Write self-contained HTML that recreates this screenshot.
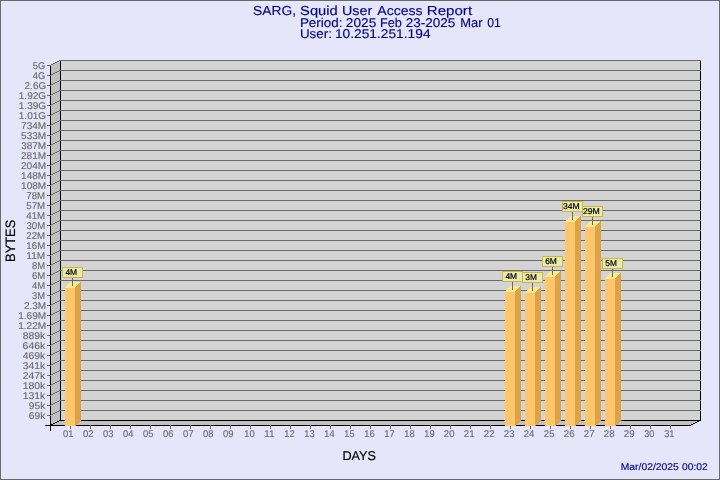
<!DOCTYPE html>
<html><head><meta charset="utf-8"><title>SARG</title>
<style>html,body{margin:0;padding:0;background:rgb(230,230,250);overflow:hidden}svg{display:block;will-change:transform}text{font-family:"Liberation Sans",sans-serif;text-rendering:geometricPrecision;stroke-linejoin:round}</style></head><body>
<svg width="720" height="480" viewBox="0 0 720 480">
<rect x="0" y="0" width="720" height="480" fill="rgb(230,230,250)"/>
<g shape-rendering="crispEdges">
<rect x="0.5" y="0.5" width="719" height="479" fill="none" stroke="rgb(105,105,105)" stroke-width="1"/>
<polygon points="50,65.5 50,426 60.5,420.5 60.5,60" fill="rgb(192,192,192)"/>
<rect x="60" y="60" width="641" height="361" fill="rgb(211,211,211)"/>
<polygon points="50,426 60.5,420.5 701,420.5 691,426" fill="rgb(192,192,192)"/>
</g>
<g shape-rendering="crispEdges" fill="#000">
<rect x="50" y="65" width="1" height="366"/>
<rect x="45" y="425" width="646" height="1"/>
<rect x="60" y="60" width="1" height="361"/>
<rect x="700" y="60" width="1" height="361"/>
<rect x="50" y="425" width="1" height="1"/><rect x="51" y="424" width="2" height="1"/><rect x="53" y="423" width="2" height="1"/><rect x="55" y="422" width="2" height="1"/><rect x="57" y="421" width="2" height="1"/><rect x="59" y="420" width="2" height="1"/>
<rect x="690" y="425" width="1" height="1"/><rect x="691" y="424" width="2" height="1"/><rect x="693" y="423" width="2" height="1"/><rect x="695" y="422" width="2" height="1"/><rect x="697" y="421" width="2" height="1"/><rect x="699" y="420" width="2" height="1"/>
</g>
<g shape-rendering="crispEdges" fill="rgb(105,105,105)">
<rect x="60" y="60" width="641" height="1"/>
<rect x="47" y="65" width="3" height="1"/>
<rect x="50" y="65" width="1" height="1"/><rect x="51" y="64" width="2" height="1"/><rect x="53" y="63" width="2" height="1"/><rect x="55" y="62" width="2" height="1"/><rect x="57" y="61" width="2" height="1"/><rect x="59" y="60" width="2" height="1"/>
<rect x="60" y="70" width="641" height="1"/>
<rect x="47" y="75" width="3" height="1"/>
<rect x="50" y="75" width="1" height="1"/><rect x="51" y="74" width="2" height="1"/><rect x="53" y="73" width="2" height="1"/><rect x="55" y="72" width="2" height="1"/><rect x="57" y="71" width="2" height="1"/><rect x="59" y="70" width="2" height="1"/>
<rect x="60" y="80" width="641" height="1"/>
<rect x="47" y="85" width="3" height="1"/>
<rect x="50" y="85" width="1" height="1"/><rect x="51" y="84" width="2" height="1"/><rect x="53" y="83" width="2" height="1"/><rect x="55" y="82" width="2" height="1"/><rect x="57" y="81" width="2" height="1"/><rect x="59" y="80" width="2" height="1"/>
<rect x="60" y="90" width="641" height="1"/>
<rect x="47" y="95" width="3" height="1"/>
<rect x="50" y="95" width="1" height="1"/><rect x="51" y="94" width="2" height="1"/><rect x="53" y="93" width="2" height="1"/><rect x="55" y="92" width="2" height="1"/><rect x="57" y="91" width="2" height="1"/><rect x="59" y="90" width="2" height="1"/>
<rect x="60" y="100" width="641" height="1"/>
<rect x="47" y="105" width="3" height="1"/>
<rect x="50" y="105" width="1" height="1"/><rect x="51" y="104" width="2" height="1"/><rect x="53" y="103" width="2" height="1"/><rect x="55" y="102" width="2" height="1"/><rect x="57" y="101" width="2" height="1"/><rect x="59" y="100" width="2" height="1"/>
<rect x="60" y="110" width="641" height="1"/>
<rect x="47" y="115" width="3" height="1"/>
<rect x="50" y="115" width="1" height="1"/><rect x="51" y="114" width="2" height="1"/><rect x="53" y="113" width="2" height="1"/><rect x="55" y="112" width="2" height="1"/><rect x="57" y="111" width="2" height="1"/><rect x="59" y="110" width="2" height="1"/>
<rect x="60" y="120" width="641" height="1"/>
<rect x="47" y="125" width="3" height="1"/>
<rect x="50" y="125" width="1" height="1"/><rect x="51" y="124" width="2" height="1"/><rect x="53" y="123" width="2" height="1"/><rect x="55" y="122" width="2" height="1"/><rect x="57" y="121" width="2" height="1"/><rect x="59" y="120" width="2" height="1"/>
<rect x="60" y="130" width="641" height="1"/>
<rect x="47" y="135" width="3" height="1"/>
<rect x="50" y="135" width="1" height="1"/><rect x="51" y="134" width="2" height="1"/><rect x="53" y="133" width="2" height="1"/><rect x="55" y="132" width="2" height="1"/><rect x="57" y="131" width="2" height="1"/><rect x="59" y="130" width="2" height="1"/>
<rect x="60" y="140" width="641" height="1"/>
<rect x="47" y="145" width="3" height="1"/>
<rect x="50" y="145" width="1" height="1"/><rect x="51" y="144" width="2" height="1"/><rect x="53" y="143" width="2" height="1"/><rect x="55" y="142" width="2" height="1"/><rect x="57" y="141" width="2" height="1"/><rect x="59" y="140" width="2" height="1"/>
<rect x="60" y="150" width="641" height="1"/>
<rect x="47" y="155" width="3" height="1"/>
<rect x="50" y="155" width="1" height="1"/><rect x="51" y="154" width="2" height="1"/><rect x="53" y="153" width="2" height="1"/><rect x="55" y="152" width="2" height="1"/><rect x="57" y="151" width="2" height="1"/><rect x="59" y="150" width="2" height="1"/>
<rect x="60" y="160" width="641" height="1"/>
<rect x="47" y="165" width="3" height="1"/>
<rect x="50" y="165" width="1" height="1"/><rect x="51" y="164" width="2" height="1"/><rect x="53" y="163" width="2" height="1"/><rect x="55" y="162" width="2" height="1"/><rect x="57" y="161" width="2" height="1"/><rect x="59" y="160" width="2" height="1"/>
<rect x="60" y="170" width="641" height="1"/>
<rect x="47" y="175" width="3" height="1"/>
<rect x="50" y="175" width="1" height="1"/><rect x="51" y="174" width="2" height="1"/><rect x="53" y="173" width="2" height="1"/><rect x="55" y="172" width="2" height="1"/><rect x="57" y="171" width="2" height="1"/><rect x="59" y="170" width="2" height="1"/>
<rect x="60" y="180" width="641" height="1"/>
<rect x="47" y="185" width="3" height="1"/>
<rect x="50" y="185" width="1" height="1"/><rect x="51" y="184" width="2" height="1"/><rect x="53" y="183" width="2" height="1"/><rect x="55" y="182" width="2" height="1"/><rect x="57" y="181" width="2" height="1"/><rect x="59" y="180" width="2" height="1"/>
<rect x="60" y="190" width="641" height="1"/>
<rect x="47" y="195" width="3" height="1"/>
<rect x="50" y="195" width="1" height="1"/><rect x="51" y="194" width="2" height="1"/><rect x="53" y="193" width="2" height="1"/><rect x="55" y="192" width="2" height="1"/><rect x="57" y="191" width="2" height="1"/><rect x="59" y="190" width="2" height="1"/>
<rect x="60" y="200" width="641" height="1"/>
<rect x="47" y="205" width="3" height="1"/>
<rect x="50" y="205" width="1" height="1"/><rect x="51" y="204" width="2" height="1"/><rect x="53" y="203" width="2" height="1"/><rect x="55" y="202" width="2" height="1"/><rect x="57" y="201" width="2" height="1"/><rect x="59" y="200" width="2" height="1"/>
<rect x="60" y="210" width="641" height="1"/>
<rect x="47" y="215" width="3" height="1"/>
<rect x="50" y="215" width="1" height="1"/><rect x="51" y="214" width="2" height="1"/><rect x="53" y="213" width="2" height="1"/><rect x="55" y="212" width="2" height="1"/><rect x="57" y="211" width="2" height="1"/><rect x="59" y="210" width="2" height="1"/>
<rect x="60" y="220" width="641" height="1"/>
<rect x="47" y="225" width="3" height="1"/>
<rect x="50" y="225" width="1" height="1"/><rect x="51" y="224" width="2" height="1"/><rect x="53" y="223" width="2" height="1"/><rect x="55" y="222" width="2" height="1"/><rect x="57" y="221" width="2" height="1"/><rect x="59" y="220" width="2" height="1"/>
<rect x="60" y="230" width="641" height="1"/>
<rect x="47" y="235" width="3" height="1"/>
<rect x="50" y="235" width="1" height="1"/><rect x="51" y="234" width="2" height="1"/><rect x="53" y="233" width="2" height="1"/><rect x="55" y="232" width="2" height="1"/><rect x="57" y="231" width="2" height="1"/><rect x="59" y="230" width="2" height="1"/>
<rect x="60" y="240" width="641" height="1"/>
<rect x="47" y="245" width="3" height="1"/>
<rect x="50" y="245" width="1" height="1"/><rect x="51" y="244" width="2" height="1"/><rect x="53" y="243" width="2" height="1"/><rect x="55" y="242" width="2" height="1"/><rect x="57" y="241" width="2" height="1"/><rect x="59" y="240" width="2" height="1"/>
<rect x="60" y="250" width="641" height="1"/>
<rect x="47" y="255" width="3" height="1"/>
<rect x="50" y="255" width="1" height="1"/><rect x="51" y="254" width="2" height="1"/><rect x="53" y="253" width="2" height="1"/><rect x="55" y="252" width="2" height="1"/><rect x="57" y="251" width="2" height="1"/><rect x="59" y="250" width="2" height="1"/>
<rect x="60" y="260" width="641" height="1"/>
<rect x="47" y="265" width="3" height="1"/>
<rect x="50" y="265" width="1" height="1"/><rect x="51" y="264" width="2" height="1"/><rect x="53" y="263" width="2" height="1"/><rect x="55" y="262" width="2" height="1"/><rect x="57" y="261" width="2" height="1"/><rect x="59" y="260" width="2" height="1"/>
<rect x="60" y="270" width="641" height="1"/>
<rect x="47" y="275" width="3" height="1"/>
<rect x="50" y="275" width="1" height="1"/><rect x="51" y="274" width="2" height="1"/><rect x="53" y="273" width="2" height="1"/><rect x="55" y="272" width="2" height="1"/><rect x="57" y="271" width="2" height="1"/><rect x="59" y="270" width="2" height="1"/>
<rect x="60" y="280" width="641" height="1"/>
<rect x="47" y="285" width="3" height="1"/>
<rect x="50" y="285" width="1" height="1"/><rect x="51" y="284" width="2" height="1"/><rect x="53" y="283" width="2" height="1"/><rect x="55" y="282" width="2" height="1"/><rect x="57" y="281" width="2" height="1"/><rect x="59" y="280" width="2" height="1"/>
<rect x="60" y="290" width="641" height="1"/>
<rect x="47" y="295" width="3" height="1"/>
<rect x="50" y="295" width="1" height="1"/><rect x="51" y="294" width="2" height="1"/><rect x="53" y="293" width="2" height="1"/><rect x="55" y="292" width="2" height="1"/><rect x="57" y="291" width="2" height="1"/><rect x="59" y="290" width="2" height="1"/>
<rect x="60" y="300" width="641" height="1"/>
<rect x="47" y="305" width="3" height="1"/>
<rect x="50" y="305" width="1" height="1"/><rect x="51" y="304" width="2" height="1"/><rect x="53" y="303" width="2" height="1"/><rect x="55" y="302" width="2" height="1"/><rect x="57" y="301" width="2" height="1"/><rect x="59" y="300" width="2" height="1"/>
<rect x="60" y="310" width="641" height="1"/>
<rect x="47" y="315" width="3" height="1"/>
<rect x="50" y="315" width="1" height="1"/><rect x="51" y="314" width="2" height="1"/><rect x="53" y="313" width="2" height="1"/><rect x="55" y="312" width="2" height="1"/><rect x="57" y="311" width="2" height="1"/><rect x="59" y="310" width="2" height="1"/>
<rect x="60" y="320" width="641" height="1"/>
<rect x="47" y="325" width="3" height="1"/>
<rect x="50" y="325" width="1" height="1"/><rect x="51" y="324" width="2" height="1"/><rect x="53" y="323" width="2" height="1"/><rect x="55" y="322" width="2" height="1"/><rect x="57" y="321" width="2" height="1"/><rect x="59" y="320" width="2" height="1"/>
<rect x="60" y="330" width="641" height="1"/>
<rect x="47" y="335" width="3" height="1"/>
<rect x="50" y="335" width="1" height="1"/><rect x="51" y="334" width="2" height="1"/><rect x="53" y="333" width="2" height="1"/><rect x="55" y="332" width="2" height="1"/><rect x="57" y="331" width="2" height="1"/><rect x="59" y="330" width="2" height="1"/>
<rect x="60" y="340" width="641" height="1"/>
<rect x="47" y="345" width="3" height="1"/>
<rect x="50" y="345" width="1" height="1"/><rect x="51" y="344" width="2" height="1"/><rect x="53" y="343" width="2" height="1"/><rect x="55" y="342" width="2" height="1"/><rect x="57" y="341" width="2" height="1"/><rect x="59" y="340" width="2" height="1"/>
<rect x="60" y="350" width="641" height="1"/>
<rect x="47" y="355" width="3" height="1"/>
<rect x="50" y="355" width="1" height="1"/><rect x="51" y="354" width="2" height="1"/><rect x="53" y="353" width="2" height="1"/><rect x="55" y="352" width="2" height="1"/><rect x="57" y="351" width="2" height="1"/><rect x="59" y="350" width="2" height="1"/>
<rect x="60" y="360" width="641" height="1"/>
<rect x="47" y="365" width="3" height="1"/>
<rect x="50" y="365" width="1" height="1"/><rect x="51" y="364" width="2" height="1"/><rect x="53" y="363" width="2" height="1"/><rect x="55" y="362" width="2" height="1"/><rect x="57" y="361" width="2" height="1"/><rect x="59" y="360" width="2" height="1"/>
<rect x="60" y="370" width="641" height="1"/>
<rect x="47" y="375" width="3" height="1"/>
<rect x="50" y="375" width="1" height="1"/><rect x="51" y="374" width="2" height="1"/><rect x="53" y="373" width="2" height="1"/><rect x="55" y="372" width="2" height="1"/><rect x="57" y="371" width="2" height="1"/><rect x="59" y="370" width="2" height="1"/>
<rect x="60" y="380" width="641" height="1"/>
<rect x="47" y="385" width="3" height="1"/>
<rect x="50" y="385" width="1" height="1"/><rect x="51" y="384" width="2" height="1"/><rect x="53" y="383" width="2" height="1"/><rect x="55" y="382" width="2" height="1"/><rect x="57" y="381" width="2" height="1"/><rect x="59" y="380" width="2" height="1"/>
<rect x="60" y="390" width="641" height="1"/>
<rect x="47" y="395" width="3" height="1"/>
<rect x="50" y="395" width="1" height="1"/><rect x="51" y="394" width="2" height="1"/><rect x="53" y="393" width="2" height="1"/><rect x="55" y="392" width="2" height="1"/><rect x="57" y="391" width="2" height="1"/><rect x="59" y="390" width="2" height="1"/>
<rect x="60" y="400" width="641" height="1"/>
<rect x="47" y="405" width="3" height="1"/>
<rect x="50" y="405" width="1" height="1"/><rect x="51" y="404" width="2" height="1"/><rect x="53" y="403" width="2" height="1"/><rect x="55" y="402" width="2" height="1"/><rect x="57" y="401" width="2" height="1"/><rect x="59" y="400" width="2" height="1"/>
<rect x="60" y="410" width="641" height="1"/>
<rect x="47" y="415" width="3" height="1"/>
<rect x="50" y="415" width="1" height="1"/><rect x="51" y="414" width="2" height="1"/><rect x="53" y="413" width="2" height="1"/><rect x="55" y="412" width="2" height="1"/><rect x="57" y="411" width="2" height="1"/><rect x="59" y="410" width="2" height="1"/>
</g>
<rect shape-rendering="crispEdges" x="60" y="420" width="641" height="1" fill="#000"/>
<g shape-rendering="crispEdges" fill="rgb(105,105,105)">
<rect x="70" y="425" width="1" height="4"/>
<rect x="90" y="425" width="1" height="4"/>
<rect x="110" y="425" width="1" height="4"/>
<rect x="130" y="425" width="1" height="4"/>
<rect x="150" y="425" width="1" height="4"/>
<rect x="170" y="425" width="1" height="4"/>
<rect x="190" y="425" width="1" height="4"/>
<rect x="210" y="425" width="1" height="4"/>
<rect x="230" y="425" width="1" height="4"/>
<rect x="250" y="425" width="1" height="4"/>
<rect x="270" y="425" width="1" height="4"/>
<rect x="290" y="425" width="1" height="4"/>
<rect x="310" y="425" width="1" height="4"/>
<rect x="330" y="425" width="1" height="4"/>
<rect x="350" y="425" width="1" height="4"/>
<rect x="370" y="425" width="1" height="4"/>
<rect x="390" y="425" width="1" height="4"/>
<rect x="410" y="425" width="1" height="4"/>
<rect x="430" y="425" width="1" height="4"/>
<rect x="450" y="425" width="1" height="4"/>
<rect x="470" y="425" width="1" height="4"/>
<rect x="490" y="425" width="1" height="4"/>
<rect x="510" y="425" width="1" height="4"/>
<rect x="530" y="425" width="1" height="4"/>
<rect x="550" y="425" width="1" height="4"/>
<rect x="570" y="425" width="1" height="4"/>
<rect x="590" y="425" width="1" height="4"/>
<rect x="610" y="425" width="1" height="4"/>
<rect x="630" y="425" width="1" height="4"/>
<rect x="650" y="425" width="1" height="4"/>
<rect x="670" y="425" width="1" height="4"/>
</g>
<g shape-rendering="crispEdges">
<rect x="65" y="288" width="10" height="138" fill="rgb(255,198,107)"/>
<rect x="75" y="288" width="6" height="133" fill="rgb(220,163,72)"/>
<rect x="65" y="287" width="10" height="1" fill="rgb(255,233,142)"/>
<rect x="75" y="287" width="6" height="1" fill="rgb(220,163,72)"/>
<rect x="66" y="286" width="10" height="1" fill="rgb(255,233,142)"/>
<rect x="76" y="286" width="5" height="1" fill="rgb(220,163,72)"/>
<rect x="67" y="285" width="10" height="1" fill="rgb(255,233,142)"/>
<rect x="77" y="285" width="4" height="1" fill="rgb(220,163,72)"/>
<rect x="68" y="284" width="10" height="1" fill="rgb(255,233,142)"/>
<rect x="78" y="284" width="3" height="1" fill="rgb(220,163,72)"/>
<rect x="69" y="283" width="10" height="1" fill="rgb(255,233,142)"/>
<rect x="79" y="283" width="2" height="1" fill="rgb(220,163,72)"/>
<rect x="70" y="282" width="10" height="1" fill="rgb(255,233,142)"/>
<rect x="80" y="282" width="1" height="1" fill="rgb(220,163,72)"/>
<rect x="75" y="421" width="5" height="1" fill="rgb(220,163,72)"/>
<rect x="75" y="422" width="4" height="1" fill="rgb(220,163,72)"/>
<rect x="75" y="423" width="3" height="1" fill="rgb(220,163,72)"/>
<rect x="75" y="424" width="2" height="1" fill="rgb(220,163,72)"/>
<rect x="75" y="425" width="1" height="1" fill="rgb(220,163,72)"/>
</g>
<g shape-rendering="crispEdges">
<rect x="505" y="292" width="10" height="134" fill="rgb(255,198,107)"/>
<rect x="515" y="292" width="6" height="129" fill="rgb(220,163,72)"/>
<rect x="505" y="291" width="10" height="1" fill="rgb(255,233,142)"/>
<rect x="515" y="291" width="6" height="1" fill="rgb(220,163,72)"/>
<rect x="506" y="290" width="10" height="1" fill="rgb(255,233,142)"/>
<rect x="516" y="290" width="5" height="1" fill="rgb(220,163,72)"/>
<rect x="507" y="289" width="10" height="1" fill="rgb(255,233,142)"/>
<rect x="517" y="289" width="4" height="1" fill="rgb(220,163,72)"/>
<rect x="508" y="288" width="10" height="1" fill="rgb(255,233,142)"/>
<rect x="518" y="288" width="3" height="1" fill="rgb(220,163,72)"/>
<rect x="509" y="287" width="10" height="1" fill="rgb(255,233,142)"/>
<rect x="519" y="287" width="2" height="1" fill="rgb(220,163,72)"/>
<rect x="510" y="286" width="10" height="1" fill="rgb(255,233,142)"/>
<rect x="520" y="286" width="1" height="1" fill="rgb(220,163,72)"/>
<rect x="515" y="421" width="5" height="1" fill="rgb(220,163,72)"/>
<rect x="515" y="422" width="4" height="1" fill="rgb(220,163,72)"/>
<rect x="515" y="423" width="3" height="1" fill="rgb(220,163,72)"/>
<rect x="515" y="424" width="2" height="1" fill="rgb(220,163,72)"/>
<rect x="515" y="425" width="1" height="1" fill="rgb(220,163,72)"/>
</g>
<g shape-rendering="crispEdges">
<rect x="525" y="293" width="10" height="133" fill="rgb(255,198,107)"/>
<rect x="535" y="293" width="6" height="128" fill="rgb(220,163,72)"/>
<rect x="525" y="292" width="10" height="1" fill="rgb(255,233,142)"/>
<rect x="535" y="292" width="6" height="1" fill="rgb(220,163,72)"/>
<rect x="526" y="291" width="10" height="1" fill="rgb(255,233,142)"/>
<rect x="536" y="291" width="5" height="1" fill="rgb(220,163,72)"/>
<rect x="527" y="290" width="10" height="1" fill="rgb(255,233,142)"/>
<rect x="537" y="290" width="4" height="1" fill="rgb(220,163,72)"/>
<rect x="528" y="289" width="10" height="1" fill="rgb(255,233,142)"/>
<rect x="538" y="289" width="3" height="1" fill="rgb(220,163,72)"/>
<rect x="529" y="288" width="10" height="1" fill="rgb(255,233,142)"/>
<rect x="539" y="288" width="2" height="1" fill="rgb(220,163,72)"/>
<rect x="530" y="287" width="10" height="1" fill="rgb(255,233,142)"/>
<rect x="540" y="287" width="1" height="1" fill="rgb(220,163,72)"/>
<rect x="535" y="421" width="5" height="1" fill="rgb(220,163,72)"/>
<rect x="535" y="422" width="4" height="1" fill="rgb(220,163,72)"/>
<rect x="535" y="423" width="3" height="1" fill="rgb(220,163,72)"/>
<rect x="535" y="424" width="2" height="1" fill="rgb(220,163,72)"/>
<rect x="535" y="425" width="1" height="1" fill="rgb(220,163,72)"/>
</g>
<g shape-rendering="crispEdges">
<rect x="545" y="277" width="10" height="149" fill="rgb(255,198,107)"/>
<rect x="555" y="277" width="6" height="144" fill="rgb(220,163,72)"/>
<rect x="545" y="276" width="10" height="1" fill="rgb(255,233,142)"/>
<rect x="555" y="276" width="6" height="1" fill="rgb(220,163,72)"/>
<rect x="546" y="275" width="10" height="1" fill="rgb(255,233,142)"/>
<rect x="556" y="275" width="5" height="1" fill="rgb(220,163,72)"/>
<rect x="547" y="274" width="10" height="1" fill="rgb(255,233,142)"/>
<rect x="557" y="274" width="4" height="1" fill="rgb(220,163,72)"/>
<rect x="548" y="273" width="10" height="1" fill="rgb(255,233,142)"/>
<rect x="558" y="273" width="3" height="1" fill="rgb(220,163,72)"/>
<rect x="549" y="272" width="10" height="1" fill="rgb(255,233,142)"/>
<rect x="559" y="272" width="2" height="1" fill="rgb(220,163,72)"/>
<rect x="550" y="271" width="10" height="1" fill="rgb(255,233,142)"/>
<rect x="560" y="271" width="1" height="1" fill="rgb(220,163,72)"/>
<rect x="555" y="421" width="5" height="1" fill="rgb(220,163,72)"/>
<rect x="555" y="422" width="4" height="1" fill="rgb(220,163,72)"/>
<rect x="555" y="423" width="3" height="1" fill="rgb(220,163,72)"/>
<rect x="555" y="424" width="2" height="1" fill="rgb(220,163,72)"/>
<rect x="555" y="425" width="1" height="1" fill="rgb(220,163,72)"/>
</g>
<g shape-rendering="crispEdges">
<rect x="565" y="222" width="10" height="204" fill="rgb(255,198,107)"/>
<rect x="575" y="222" width="6" height="199" fill="rgb(220,163,72)"/>
<rect x="565" y="221" width="10" height="1" fill="rgb(255,233,142)"/>
<rect x="575" y="221" width="6" height="1" fill="rgb(220,163,72)"/>
<rect x="566" y="220" width="10" height="1" fill="rgb(255,233,142)"/>
<rect x="576" y="220" width="5" height="1" fill="rgb(220,163,72)"/>
<rect x="567" y="219" width="10" height="1" fill="rgb(255,233,142)"/>
<rect x="577" y="219" width="4" height="1" fill="rgb(220,163,72)"/>
<rect x="568" y="218" width="10" height="1" fill="rgb(255,233,142)"/>
<rect x="578" y="218" width="3" height="1" fill="rgb(220,163,72)"/>
<rect x="569" y="217" width="10" height="1" fill="rgb(255,233,142)"/>
<rect x="579" y="217" width="2" height="1" fill="rgb(220,163,72)"/>
<rect x="570" y="216" width="10" height="1" fill="rgb(255,233,142)"/>
<rect x="580" y="216" width="1" height="1" fill="rgb(220,163,72)"/>
<rect x="575" y="421" width="5" height="1" fill="rgb(220,163,72)"/>
<rect x="575" y="422" width="4" height="1" fill="rgb(220,163,72)"/>
<rect x="575" y="423" width="3" height="1" fill="rgb(220,163,72)"/>
<rect x="575" y="424" width="2" height="1" fill="rgb(220,163,72)"/>
<rect x="575" y="425" width="1" height="1" fill="rgb(220,163,72)"/>
</g>
<g shape-rendering="crispEdges">
<rect x="585" y="227" width="10" height="199" fill="rgb(255,198,107)"/>
<rect x="595" y="227" width="6" height="194" fill="rgb(220,163,72)"/>
<rect x="585" y="226" width="10" height="1" fill="rgb(255,233,142)"/>
<rect x="595" y="226" width="6" height="1" fill="rgb(220,163,72)"/>
<rect x="586" y="225" width="10" height="1" fill="rgb(255,233,142)"/>
<rect x="596" y="225" width="5" height="1" fill="rgb(220,163,72)"/>
<rect x="587" y="224" width="10" height="1" fill="rgb(255,233,142)"/>
<rect x="597" y="224" width="4" height="1" fill="rgb(220,163,72)"/>
<rect x="588" y="223" width="10" height="1" fill="rgb(255,233,142)"/>
<rect x="598" y="223" width="3" height="1" fill="rgb(220,163,72)"/>
<rect x="589" y="222" width="10" height="1" fill="rgb(255,233,142)"/>
<rect x="599" y="222" width="2" height="1" fill="rgb(220,163,72)"/>
<rect x="590" y="221" width="10" height="1" fill="rgb(255,233,142)"/>
<rect x="600" y="221" width="1" height="1" fill="rgb(220,163,72)"/>
<rect x="595" y="421" width="5" height="1" fill="rgb(220,163,72)"/>
<rect x="595" y="422" width="4" height="1" fill="rgb(220,163,72)"/>
<rect x="595" y="423" width="3" height="1" fill="rgb(220,163,72)"/>
<rect x="595" y="424" width="2" height="1" fill="rgb(220,163,72)"/>
<rect x="595" y="425" width="1" height="1" fill="rgb(220,163,72)"/>
</g>
<g shape-rendering="crispEdges">
<rect x="605" y="279" width="10" height="147" fill="rgb(255,198,107)"/>
<rect x="615" y="279" width="6" height="142" fill="rgb(220,163,72)"/>
<rect x="605" y="278" width="10" height="1" fill="rgb(255,233,142)"/>
<rect x="615" y="278" width="6" height="1" fill="rgb(220,163,72)"/>
<rect x="606" y="277" width="10" height="1" fill="rgb(255,233,142)"/>
<rect x="616" y="277" width="5" height="1" fill="rgb(220,163,72)"/>
<rect x="607" y="276" width="10" height="1" fill="rgb(255,233,142)"/>
<rect x="617" y="276" width="4" height="1" fill="rgb(220,163,72)"/>
<rect x="608" y="275" width="10" height="1" fill="rgb(255,233,142)"/>
<rect x="618" y="275" width="3" height="1" fill="rgb(220,163,72)"/>
<rect x="609" y="274" width="10" height="1" fill="rgb(255,233,142)"/>
<rect x="619" y="274" width="2" height="1" fill="rgb(220,163,72)"/>
<rect x="610" y="273" width="10" height="1" fill="rgb(255,233,142)"/>
<rect x="620" y="273" width="1" height="1" fill="rgb(220,163,72)"/>
<rect x="615" y="421" width="5" height="1" fill="rgb(220,163,72)"/>
<rect x="615" y="422" width="4" height="1" fill="rgb(220,163,72)"/>
<rect x="615" y="423" width="3" height="1" fill="rgb(220,163,72)"/>
<rect x="615" y="424" width="2" height="1" fill="rgb(220,163,72)"/>
<rect x="615" y="425" width="1" height="1" fill="rgb(220,163,72)"/>
</g>
<g shape-rendering="crispEdges">
<rect x="72" y="278" width="1" height="8" fill="rgb(105,105,105)"/>
<rect x="62.5" y="267.5" width="20" height="10" fill="rgb(234,234,174)" stroke="rgb(207,181,59)" stroke-width="1"/>
</g>
<text transform="translate(65.41,275) scale(1.0000,1)" font-size="8.4" fill="#000" stroke="#000" stroke-width="0.22">4M</text>
<g shape-rendering="crispEdges">
<rect x="512" y="282" width="1" height="8" fill="rgb(105,105,105)"/>
<rect x="502.5" y="271.5" width="20" height="10" fill="rgb(234,234,174)" stroke="rgb(207,181,59)" stroke-width="1"/>
</g>
<text transform="translate(505.41,279) scale(1.0000,1)" font-size="8.4" fill="#000" stroke="#000" stroke-width="0.22">4M</text>
<g shape-rendering="crispEdges">
<rect x="532" y="283" width="1" height="8" fill="rgb(105,105,105)"/>
<rect x="522.5" y="272.5" width="20" height="10" fill="rgb(234,234,174)" stroke="rgb(207,181,59)" stroke-width="1"/>
</g>
<text transform="translate(525.29,280) scale(0.9883,1)" font-size="8.4" fill="#000" stroke="#000" stroke-width="0.22">3M</text>
<g shape-rendering="crispEdges">
<rect x="552" y="267" width="1" height="8" fill="rgb(105,105,105)"/>
<rect x="542.5" y="256.5" width="20" height="10" fill="rgb(234,234,174)" stroke="rgb(207,181,59)" stroke-width="1"/>
</g>
<text transform="translate(545.16,264) scale(1.0059,1)" font-size="8.4" fill="#000" stroke="#000" stroke-width="0.22">6M</text>
<g shape-rendering="crispEdges">
<rect x="572" y="212" width="1" height="8" fill="rgb(105,105,105)"/>
<rect x="562.5" y="201.5" width="20" height="10" fill="rgb(234,234,174)" stroke="rgb(207,181,59)" stroke-width="1"/>
</g>
<text transform="translate(563.08,209) scale(1.0245,1)" font-size="8.4" fill="#000" stroke="#000" stroke-width="0.22">34M</text>
<g shape-rendering="crispEdges">
<rect x="592" y="217" width="1" height="8" fill="rgb(105,105,105)"/>
<rect x="582.5" y="206.5" width="20" height="10" fill="rgb(234,234,174)" stroke="rgb(207,181,59)" stroke-width="1"/>
</g>
<text transform="translate(582.95,214) scale(1.0370,1)" font-size="8.4" fill="#000" stroke="#000" stroke-width="0.22">29M</text>
<g shape-rendering="crispEdges">
<rect x="612" y="269" width="1" height="8" fill="rgb(105,105,105)"/>
<rect x="602.5" y="258.5" width="20" height="10" fill="rgb(234,234,174)" stroke="rgb(207,181,59)" stroke-width="1"/>
</g>
<text transform="translate(605.29,266) scale(0.9883,1)" font-size="8.4" fill="#000" stroke="#000" stroke-width="0.22">5M</text>
<g font-size="9.8" fill="rgb(105,105,105)" stroke="rgb(105,105,105)" stroke-width="0.12">
<text transform="translate(32.87,69) scale(0.9526,1)">5G</text>
<text transform="translate(32.80,79) scale(0.9585,1)">4G</text>
<text transform="translate(24.58,89) scale(1.0156,1)">2.6G</text>
<text transform="translate(18.75,99) scale(1.0273,1)">1.92G</text>
<text transform="translate(18.75,109) scale(1.0273,1)">1.39G</text>
<text transform="translate(18.75,119) scale(1.0273,1)">1.01G</text>
<text transform="translate(21.08,129) scale(1.0242,1)">734M</text>
<text transform="translate(21.08,139) scale(1.0241,1)">533M</text>
<text transform="translate(21.14,149) scale(1.0214,1)">387M</text>
<text transform="translate(21.01,159) scale(1.0269,1)">281M</text>
<text transform="translate(21.01,169) scale(1.0269,1)">204M</text>
<text transform="translate(21.07,179) scale(1.0245,1)">148M</text>
<text transform="translate(21.07,189) scale(1.0245,1)">108M</text>
<text transform="translate(26.34,199) scale(0.9894,1)">78M</text>
<text transform="translate(26.34,209) scale(0.9895,1)">57M</text>
<text transform="translate(26.28,219) scale(0.9931,1)">41M</text>
<text transform="translate(26.41,229) scale(0.9860,1)">30M</text>
<text transform="translate(26.28,239) scale(0.9930,1)">22M</text>
<text transform="translate(26.35,249) scale(0.9893,1)">16M</text>
<text transform="translate(26.32,259) scale(1.0297,1)">11M</text>
<text transform="translate(31.98,269) scale(0.9697,1)">8M</text>
<text transform="translate(31.91,279) scale(0.9746,1)">6M</text>
<text transform="translate(31.97,289) scale(0.9701,1)">4M</text>
<text transform="translate(32.10,299) scale(0.9598,1)">3M</text>
<text transform="translate(23.95,309) scale(1.0213,1)">2.3M</text>
<text transform="translate(18.13,319) scale(1.0316,1)">1.69M</text>
<text transform="translate(18.13,329) scale(1.0316,1)">1.22M</text>
<text transform="translate(22.65,339) scale(1.0661,1)">889k</text>
<text transform="translate(22.58,349) scale(1.0693,1)">646k</text>
<text transform="translate(22.66,359) scale(1.0655,1)">469k</text>
<text transform="translate(22.78,369) scale(1.0599,1)">341k</text>
<text transform="translate(22.64,379) scale(1.0663,1)">247k</text>
<text transform="translate(22.69,389) scale(1.0640,1)">180k</text>
<text transform="translate(22.69,399) scale(1.0640,1)">131k</text>
<text transform="translate(28.84,409) scale(1.0449,1)">95k</text>
<text transform="translate(28.84,419) scale(1.0451,1)">69k</text>
</g>
<g font-size="9.8" fill="rgb(105,105,105)" stroke="rgb(105,105,105)" stroke-width="0.12">
<text transform="translate(63.04,437) scale(0.9640,1)">01</text>
<text transform="translate(83.04,437) scale(0.9700,1)">02</text>
<text transform="translate(103.04,437) scale(0.9640,1)">03</text>
<text transform="translate(123.05,437) scale(0.9463,1)">04</text>
<text transform="translate(143.04,437) scale(0.9580,1)">05</text>
<text transform="translate(163.04,437) scale(0.9640,1)">06</text>
<text transform="translate(183.04,437) scale(0.9700,1)">07</text>
<text transform="translate(203.04,437) scale(0.9640,1)">08</text>
<text transform="translate(223.04,437) scale(0.9640,1)">09</text>
<text transform="translate(244.29,437) scale(0.9436,1)">10</text>
<text transform="translate(264.23,437) scale(1.0222,1)">11</text>
<text transform="translate(284.28,437) scale(0.9558,1)">12</text>
<text transform="translate(304.29,437) scale(0.9497,1)">13</text>
<text transform="translate(324.30,437) scale(0.9316,1)">14</text>
<text transform="translate(344.29,437) scale(0.9436,1)">15</text>
<text transform="translate(364.29,437) scale(0.9497,1)">16</text>
<text transform="translate(384.28,437) scale(0.9558,1)">17</text>
<text transform="translate(404.29,437) scale(0.9497,1)">18</text>
<text transform="translate(424.29,437) scale(0.9497,1)">19</text>
<text transform="translate(443.81,437) scale(0.9800,1)">20</text>
<text transform="translate(463.81,437) scale(0.9862,1)">21</text>
<text transform="translate(483.80,437) scale(0.9924,1)">22</text>
<text transform="translate(503.81,437) scale(0.9862,1)">23</text>
<text transform="translate(523.82,437) scale(0.9679,1)">24</text>
<text transform="translate(543.81,437) scale(0.9800,1)">25</text>
<text transform="translate(563.81,437) scale(0.9862,1)">26</text>
<text transform="translate(583.80,437) scale(0.9924,1)">27</text>
<text transform="translate(603.81,437) scale(0.9862,1)">28</text>
<text transform="translate(623.81,437) scale(0.9862,1)">29</text>
<text transform="translate(644.15,437) scale(0.9284,1)">30</text>
<text transform="translate(664.15,437) scale(0.9342,1)">31</text>
</g>
<text transform="translate(253.04,15) scale(1.0615,1)" font-size="13.0" fill="rgb(0,0,139)" stroke="rgb(0,0,139)" stroke-width="0.14">SARG,</text>
<text transform="translate(300.09,15) scale(1.1307,1)" font-size="13.0" fill="rgb(0,0,139)" stroke="rgb(0,0,139)" stroke-width="0.14">Squid</text>
<text transform="translate(341.90,15) scale(1.1048,1)" font-size="13.0" fill="rgb(0,0,139)" stroke="rgb(0,0,139)" stroke-width="0.14">User</text>
<text transform="translate(377.33,15) scale(1.0796,1)" font-size="13.0" fill="rgb(0,0,139)" stroke="rgb(0,0,139)" stroke-width="0.14">Access</text>
<text transform="translate(426.77,15) scale(1.1617,1)" font-size="13.0" fill="rgb(0,0,139)" stroke="rgb(0,0,139)" stroke-width="0.14">Report</text>
<text transform="translate(299.88,27) scale(1.0519,1)" font-size="12.8" fill="rgb(0,0,139)" stroke="rgb(0,0,139)" stroke-width="0.14">Period:</text>
<text transform="translate(345.83,27) scale(1.0691,1)" font-size="12.8" fill="rgb(0,0,139)" stroke="rgb(0,0,139)" stroke-width="0.14">2025</text>
<text transform="translate(379.94,27) scale(0.9933,1)" font-size="12.8" fill="rgb(0,0,139)" stroke="rgb(0,0,139)" stroke-width="0.14">Feb</text>
<text transform="translate(405.64,27) scale(1.0565,1)" font-size="12.8" fill="rgb(0,0,139)" stroke="rgb(0,0,139)" stroke-width="0.14">23-2025</text>
<text transform="translate(460.22,27) scale(1.0120,1)" font-size="12.8" fill="rgb(0,0,139)" stroke="rgb(0,0,139)" stroke-width="0.14">Mar</text>
<text transform="translate(487.22,27) scale(0.9524,1)" font-size="12.8" fill="rgb(0,0,139)" stroke="rgb(0,0,139)" stroke-width="0.14">01</text>
<text transform="translate(299.95,38) scale(1.0467,1)" font-size="12.8" fill="rgb(0,0,139)" stroke="rgb(0,0,139)" stroke-width="0.14">User:</text>
<text transform="translate(334.92,38) scale(1.0750,1)" font-size="12.8" fill="rgb(0,0,139)" stroke="rgb(0,0,139)" stroke-width="0.14">10.251.251.194</text>
<text transform="translate(342.45,460) scale(0.9891,1)" font-size="12.8" fill="#000" stroke="#000" stroke-width="0.2">DAYS</text>
<text transform="translate(620.74,470) scale(1.0555,1)" font-size="9.8" fill="rgb(0,0,139)" stroke="rgb(0,0,139)" stroke-width="0.14">Mar/02/2025</text>
<text transform="translate(682.01,470) scale(1.0497,1)" font-size="9.8" fill="rgb(0,0,139)" stroke="rgb(0,0,139)" stroke-width="0.14">00:02</text>
<text transform="translate(15.1,260.9) rotate(-90) translate(-1.07,0) scale(0.9483,1)" font-size="13.6" fill="#000" stroke="#000" stroke-width="0.2">BYTES</text>
</svg></body></html>
